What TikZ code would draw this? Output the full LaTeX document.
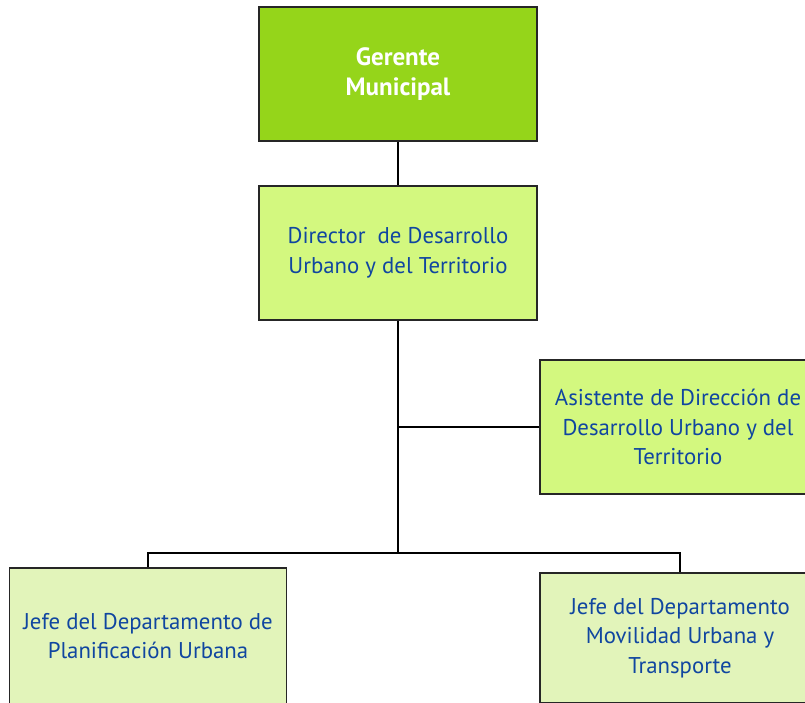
\documentclass[tikz,border=0pt]{standalone}
\usepackage{fontspec}
\setmainfont{PT Sans}
\usepackage{tikz}
\usetikzlibrary{calc,positioning}

\definecolor{gerente}{RGB}{149,213,26}
\definecolor{director}{RGB}{211,248,127}
\definecolor{jefe}{RGB}{226,244,186}
\definecolor{texto}{RGB}{16,70,160}

\begin{document}
\begin{tikzpicture}[x=1pt,y=-1pt,
  caja/.style={draw=black!85,line width=1.8pt,minimum width=278pt,minimum height=134pt,
    align=center,inner sep=0pt,font=\fontsize{22.8}{29.5}\selectfont,text=texto},
  linea/.style={line width=1.8pt}]
\useasboundingbox (0,0) rectangle (805,703);
\clip (0,0) rectangle (805,703);

\node (G) at (398,74) [caja,fill=gerente,text=white,font=\bfseries\fontsize{25}{30}\selectfont] {Gerente\\Municipal};
\node (D) at (398,253) [caja,fill=director] {Director\ \ de Desarrollo\\Urbano y del Territorio};
\node (A) at (678,427) [caja,fill=director,minimum width=276pt] {Asistente de Dirección de\\Desarrollo Urbano y del\\Territorio};
\node (P) at (148,636) [caja,fill=jefe,minimum width=277pt,minimum height=136pt] {Jefe del Departamento de\\Planificación Urbana};
\node (M) at (680,638) [caja,fill=jefe,minimum width=280pt,minimum height=130pt] {Jefe del Departamento\\Movilidad Urbana y\\Transporte};

\coordinate (bar) at (398,553);
\draw[linea] (G.south) -- (D.north);
\draw[linea] (D.south) -- (bar);
\draw[linea] (A.west) -- (A.west -| D.south);
\draw[linea] (P.north) -- (P.north |- bar) -- (M.north |- bar) -- (M.north);

\end{tikzpicture}
\end{document}
